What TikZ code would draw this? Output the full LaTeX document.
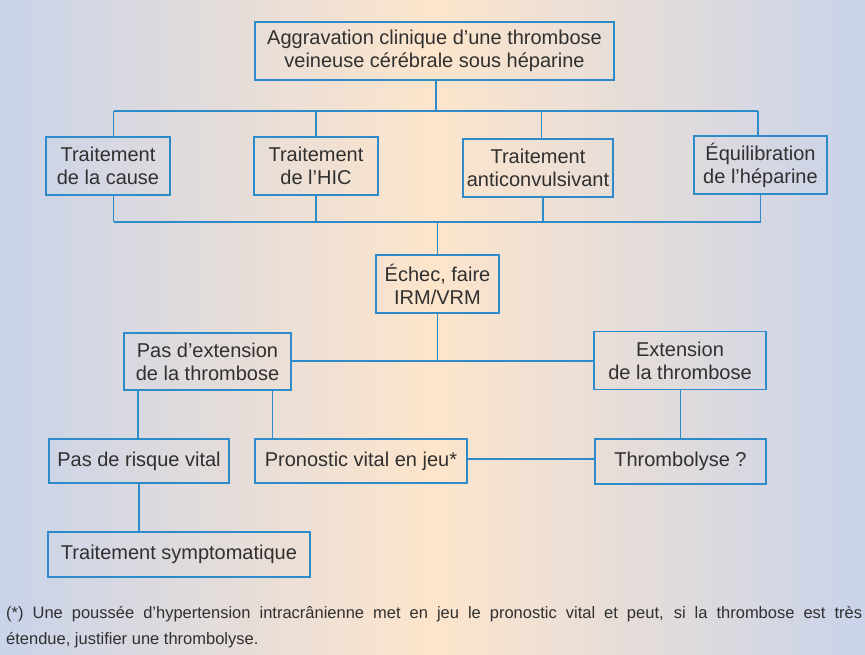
\documentclass[tikz,border=0pt]{standalone}
\usepackage{fontspec}
\newfontfamily\boxfont{Liberation Sans}
\newfontfamily\notefont{Liberation Sans}
\definecolor{bgside}{HTML}{C9D3EA}
\definecolor{bgmid}{HTML}{FDE5CB}
\definecolor{lineblue}{HTML}{2E8BC9}
\definecolor{txt}{HTML}{303030}
\begin{document}
\begin{tikzpicture}[x=1pt,y=-1pt,
  box/.style={draw=lineblue, line width=1.3pt, inner sep=0pt, align=center,
    text=txt, font=\fontsize{20}{23}\boxfont},
  link/.style={draw=lineblue, line width=1.3pt}]
\useasboundingbox (0,0) rectangle (865,654);
\shade[left color=bgside, right color=bgside, middle color=bgmid] (0,0) rectangle (865,654);

% nodes
\node[box, minimum width=359pt, minimum height=58pt] (top) at (434.5,51)
  {Aggravation clinique d’une thrombose\\veineuse cérébrale sous héparine};
\node[box, minimum width=124pt, minimum height=58pt] (cause) at (108,166)
  {Traitement\\de la cause};
\node[box, minimum width=124pt, minimum height=58pt] (hic) at (316,166)
  {Traitement\\de l’HIC};
\node[box, minimum width=150pt, minimum height=58pt] (anti) at (538,168)
  {Traitement\\anticonvulsivant};
\node[box, minimum width=133pt, minimum height=58pt] (equi) at (760.5,165)
  {Équilibration\\de l’héparine};
\node[box, minimum width=123pt, minimum height=58pt] (echec) at (437.5,284)
  {Échec, faire\\IRM/VRM};
\node[box, minimum width=167pt, minimum height=57pt] (pasext) at (207.5,361.5)
  {Pas d’extension\\de la thrombose};
\node[box, minimum width=172pt, minimum height=58pt] (ext) at (680,360.5)
  {Extension\\de la thrombose};
\node[box, minimum width=180pt, minimum height=44pt] (risque) at (139,461)
  {Pas de risque vital};
\node[box, minimum width=212pt, minimum height=44pt] (prono) at (361,461)
  {Pronostic vital en jeu*};
\node[box, minimum width=171pt, minimum height=45pt] (thrombo) at (680.5,461.5)
  {Thrombolyse ?};
\node[box, minimum width=262pt, minimum height=45pt] (sympt) at (179,554.5)
  {Traitement symptomatique};

% bus coordinates
\coordinate (b1a) at (113.5,111);
\coordinate (b1b) at (316,111);
\coordinate (b1c) at (541.5,111);
\coordinate (b1d) at (758,111);
\coordinate (b1m) at (436,111);
\coordinate (b2a) at (113.5,222);
\coordinate (b2b) at (316,222);
\coordinate (b2c) at (543,222);
\coordinate (b2d) at (760.5,222);
\coordinate (b2m) at (437.5,222);
\coordinate (hub) at (437.5,361);
\coordinate (pA) at (138,400);
\coordinate (pB) at (272.5,400);

% connectors
\draw[link] (top.south -| b1m) -- (b1m);
\draw[link] (b1a) -- (b1d);
\draw[link] (b1a) -- (b1a |- cause.north);
\draw[link] (b1b) -- (b1b |- hic.north);
\draw[link] (b1c) -- (b1c |- anti.north);
\draw[link] (b1d) -- (b1d |- equi.north);

\draw[link] (b2a |- cause.south) -- (b2a);
\draw[link] (b2b |- hic.south) -- (b2b);
\draw[link] (b2c |- anti.south) -- (b2c);
\draw[link] (b2d |- equi.south) -- (b2d);
\draw[link] (b2a) -- (b2d);
\draw[link] (b2m) -- (b2m |- echec.north);

\draw[link] (echec.south -| hub) -- (hub);
\draw[link] (pasext.east |- hub) -- (ext.west |- hub);

\draw[link] (pA |- pasext.south) -- (pA |- risque.north);
\draw[link] (pB |- pasext.south) -- (pB |- prono.north);
\draw[link] (ext.south -| thrombo.north) -- (thrombo.north);
\draw[link] (prono.east |- 0,459) -- (thrombo.west |- 0,459);
\draw[link] (risque.south) -- (risque.south |- sympt.north);

% footnote
\node[anchor=north west, inner sep=0pt, text width=856pt, align=justify,
  text=txt, font=\fontsize{16.5}{26}\notefont] (note) at (6,606)
  {(*) Une poussée d’hypertension intracrânienne met en jeu le pronostic vital et peut, si la thrombose est très\linebreak étendue, justifier une thrombolyse.};
\end{tikzpicture}
\end{document}
